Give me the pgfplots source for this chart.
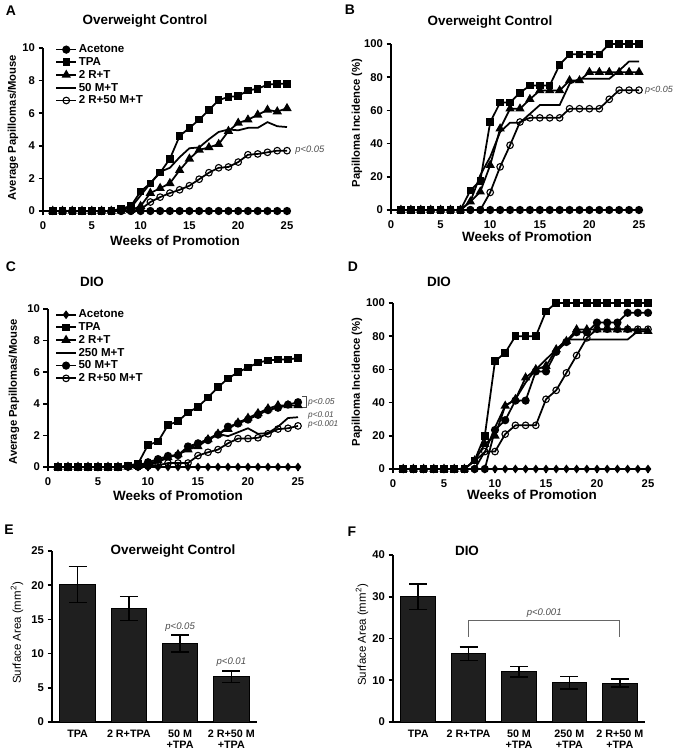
\documentclass[border=0pt]{standalone}
\usepackage{pgfplots}
\usepackage{pgfplotstable}
\pgfplotsset{compat=1.18}
\usepackage{fontspec}
\setmainfont{Liberation Sans}
\newcommand{\fs}[1]{\fontsize{#1}{#1}\selectfont}

\pgfplotstableread{
week ace tpa rt m rm
1 0 0 0 0 0
2 0 0 0 0 0
3 0 0 0 0 0
4 0 0 0 0 0
5 0 0 0 0 0
6 0 0 0 0 0
7 0 0 0 0 0
8 0 0.15 0 0.05 0
9 0 0.3 0.05 0.2 0
10 0 1.2 0.3 0.95 0.1
11 0 1.7 1.1 1.7 0.55
12 0 2.35 1.4 2.4 0.85
13 0 3.2 1.7 2.65 1.1
14 0 4.6 2.5 3.3 1.3
15 0 5.1 3.2 3.85 1.55
16 0 5.6 3.75 3.9 1.95
17 0 6.2 3.9 4.4 2.35
18 0 6.8 4.1 4.85 2.65
19 0 7.0 4.9 5.0 2.7
20 0 7.05 5.4 4.95 3.0
21 0 7.4 5.6 5.1 3.45
22 0 7.5 5.9 5.1 3.5
23 0 7.75 6.2 5.45 3.6
24 0 7.8 6.1 5.2 3.7
25 0 7.8 6.3 5.15 3.7
}\tabA

\pgfplotstableread{
week ace tpa rt m rm
1 0 0 0 0 0
2 0 0 0 0 0
3 0 0 0 0 0
4 0 0 0 0 0
5 0 0 0 0 0
6 0 0 0 0 0
7 0 0 0 0 0
8 0 11.8 5 5 0
9 0 17.6 11 21 0
10 0 52.9 27 32 10.6
11 0 64.7 49 47 26
12 0 64.7 61 52.6 39
13 0 70.6 61 52.6 53
14 0 75 66.7 57.9 55.5
15 0 75 72 63.2 55.5
16 0 75 72 63.2 55.5
17 0 87.5 72 63.2 55.5
18 0 93.8 78 76 61
19 0 93.8 78 79 61
20 0 93.8 83 79 61
21 0 93.8 83 79 61
22 0 100 83 79 66.7
23 0 100 83 84 72.2
24 0 100 83 89.5 72.2
25 0 100 83 89.5 72.2
}\tabB

\pgfplotstableread{
week ace tpa rt mq mc rm
1 0 0 0 0 0 0
2 0 0 0 0 0 0
3 0 0 0 0 0 0
4 0 0 0 0 0 0
5 0 0 0 0 0 0
6 0 0 0 0 0 0
7 0 0 0 0 0 0
8 0 0.1 0 0 0.05 0
9 0 0.2 0.05 0.05 0.1 0
10 0 1.4 0.2 0.1 0.3 0.05
11 0 1.6 0.4 0.3 0.5 0.1
12 0 2.65 0.6 0.6 0.7 0.25
13 0 2.9 0.8 0.8 0.75 0.25
14 0 3.45 1.1 1.1 1.3 0.25
15 0 3.8 1.3 1.5 1.5 0.72
16 0 4.4 1.75 1.75 1.7 0.93
17 0 5.05 2.1 2.1 2.05 1.1
18 0 5.6 2.4 1.95 2.55 1.5
19 0 6.0 2.8 2.2 2.75 1.8
20 0 6.3 3.1 2.45 3.0 1.8
21 0 6.6 3.4 2.1 3.3 1.85
22 0 6.75 3.7 2.15 3.6 2.1
23 0 6.8 3.9 2.55 3.75 2.4
24 0 6.8 3.9 3.1 3.95 2.45
25 0 6.9 3.9 3.15 4.1 2.6
}\tabC

\pgfplotstableread{
week ace tpa rt mq mc rm
1 0 0 0 0 0 0
2 0 0 0 0 0 0
3 0 0 0 0 0 0
4 0 0 0 0 0 0
5 0 0 0 0 0 0
6 0 0 0 0 0 0
7 0 0 0 0 0 0
8 0 5.2 5 5 0 0
9 0 20 15 10 0 10.5
10 0 65 20 25 23.5 10.5
11 0 70 38 38 29.4 21
12 0 80 42 42 41.2 26.3
13 0 80 55 52 41.2 26.3
14 0 80 60 60 58.8 26.3
15 0 95 62 66 58.8 42
16 0 100 72 72 70.6 47.4
17 0 100 77 78 76.5 57.9
18 0 100 84 78 82.4 68.4
19 0 100 84 78 82.4 79
20 0 100 84 78 88.2 84.2
21 0 100 84 78 88.2 84.2
22 0 100 84 78 88.2 84.2
23 0 100 84 78 94.1 84.2
24 0 100 83 83 94.1 84.2
25 0 100 83 83 94.1 84.2
}\tabD

\begin{document}
\begin{tikzpicture}
\pgfplotsset{
  base/.style={scale only axis, clip=false, axis lines=left,
    axis line style={-, line width=1.9bp, black},
    tick align=outside, major tick length=4.5bp,
    tick style={line width=1.6bp, black},
    /pgf/number format/assume math mode=true,
    tick label style={font=\fs{11.3}\bfseries},
    legend cell align=left,
  },
  lin/.style={base, xmin=0, xmax=25, xtick={0,5,10,15,20,25},
    xticklabel style={yshift=-3bp}},
  ser/.style={black, line width=1.75bp},
  pace/.style={ser, mark=*, mark size=3.2bp},
  pacd/.style={ser, mark=diamond*, mark size=3bp},
  ptpa/.style={ser, mark=square*, mark size=2.9bp},
  prt/.style={ser, mark=triangle*, mark size=3.7bp},
  pm/.style={ser, mark=none},
  pmc/.style={ser, mark=*, mark size=3.2bp},
  prm/.style={ser, mark=o, mark size=3.3bp, mark options={line width=1.1bp}},
  leg/.style={legend style={draw=none, fill=none, inner sep=0pt,
      font=\fs{11.6}\bfseries, row sep=0bp, at={#1}, anchor=north west,
      nodes={inner sep=1.6bp}},
    legend image code/.code={\draw[mark repeat=2,mark phase=2,##1] plot coordinates {(0bp,0bp) (10bp,0bp) (20bp,0bp)};}},
  barax/.style={base, ymin=0, x tick style={draw=none},
    xticklabel style={align=center, font=\fontsize{10.8}{11}\selectfont\bfseries}},
  bars/.style={ybar, bar width=0.69, fill=black!88, draw=black, line width=1bp,
    error bars/.cd, y dir=both, y explicit,
    error bar style={line width=1.6bp, black},
    error mark options={rotate=90, mark size=9bp, line width=1.6bp, black}},
}

% ---------- A ----------
\begin{axis}[lin, at={(43bp,539bp)}, anchor=south west, width=244bp, height=163bp,
  ymin=0, ymax=10, ytick={0,2,4,6,8,10}, leg={(0.05,1.03)}]
\addplot[pace] table[x=week,y=ace]{\tabA}; \addlegendentry{Acetone}
\addplot[ptpa] table[x=week,y=tpa]{\tabA}; \addlegendentry{TPA}
\addplot[prt] table[x=week,y=rt]{\tabA}; \addlegendentry{2 R+T}
\addplot[pm] table[x=week,y=m]{\tabA}; \addlegendentry{50 M+T}
\addplot[prm] table[x=week,y=rm]{\tabA}; \addlegendentry{2 R+50 M+T}
\node[font=\fs{9.4}\itshape, text=black!70, anchor=west] at (axis cs:25.5,3.7) {p<0.05};
\end{axis}

% ---------- B ----------
\begin{axis}[lin, at={(391bp,540bp)}, anchor=south west, width=248bp, height=166bp,
  ymin=0, ymax=100, ytick={0,20,40,60,80,100}]
\addplot[pace] table[x=week,y=ace]{\tabB};
\addplot[ptpa] table[x=week,y=tpa]{\tabB};
\addplot[prt] table[x=week,y=rt]{\tabB};
\addplot[pm] table[x=week,y=m]{\tabB};
\addplot[prm] table[x=week,y=rm]{\tabB};
\node[font=\fs{9}\itshape, text=black!70, anchor=west, inner sep=0pt] at (axis cs:25.6,72) {p<0.05};
\end{axis}

% ---------- C ----------
\begin{axis}[lin, at={(48bp,283bp)}, anchor=south west, width=250bp, height=158bp,
  ymin=0, ymax=10, ytick={0,2,4,6,8,10}, leg={(0.028,1.005)}]
\addplot[pacd] table[x=week,y=ace]{\tabC}; \addlegendentry{Acetone}
\addplot[ptpa] table[x=week,y=tpa]{\tabC}; \addlegendentry{TPA}
\addplot[prt] table[x=week,y=rt]{\tabC}; \addlegendentry{2 R+T}
\addplot[pm] table[x=week,y=mq]{\tabC}; \addlegendentry{250 M+T}
\addplot[pmc] table[x=week,y=mc]{\tabC}; \addlegendentry{50 M+T}
\addplot[prm] table[x=week,y=rm]{\tabC}; \addlegendentry{2 R+50 M+T}
\draw[black!70, line width=0.8bp] (axis cs:25.4,4.49) -- (axis cs:25.8,4.49) -- (axis cs:25.8,3.8) -- (axis cs:25.4,3.8);
\node[font=\fs{8.6}\itshape, text=black!70, anchor=west, inner sep=0pt] at (axis cs:26.0,4.1) {p<0.05};
\node[font=\fs{8.3}\itshape, text=black!70, anchor=west, inner sep=0pt] at (axis cs:26.0,3.24) {p<0.01};
\node[font=\fs{8.3}\itshape, text=black!70, anchor=west, inner sep=0pt] at (axis cs:26.0,2.72) {p<0.001};
\end{axis}

% ---------- D ----------
\begin{axis}[lin, at={(393bp,281bp)}, anchor=south west, width=255bp, height=166bp,
  ymin=0, ymax=100, ytick={0,20,40,60,80,100}]
\addplot[pacd] table[x=week,y=ace]{\tabD};
\addplot[ptpa] table[x=week,y=tpa]{\tabD};
\addplot[prt] table[x=week,y=rt]{\tabD};
\addplot[pm] table[x=week,y=mq]{\tabD};
\addplot[pmc] table[x=week,y=mc]{\tabD};
\addplot[prm] table[x=week,y=rm]{\tabD};
\end{axis}

% ---------- E ----------
\begin{axis}[barax, at={(52bp,28bp)}, anchor=south west, width=205bp, height=171bp,
  xmin=-0.5, xmax=3.5, ymax=25, ytick={0,5,10,15,20,25},
  xtick={0,1,2,3}, xticklabels={TPA,2 R+TPA,{50 M\\+TPA},{2 R+50 M\\+TPA}}]
\addplot[bars] coordinates {(0,20.1) +- (0,2.65) (1,16.6) +- (0,1.75) (2,11.5) +- (0,1.25) (3,6.65) +- (0,0.85)};
\node[font=\fs{9.6}\itshape, text=black!70] at (axis cs:2,13.9) {p<0.05};
\node[font=\fs{9.6}\itshape, text=black!70] at (axis cs:3,8.8) {p<0.01};
\end{axis}

% ---------- F ----------
\begin{axis}[barax, at={(393bp,28bp)}, anchor=south west, width=252bp, height=167bp,
  xmin=-0.5, xmax=4.5, ymax=40, ytick={0,10,20,30,40},
  xtick={0,1,2,3,4}, xticklabels={TPA,2 R+TPA,{50 M\\+TPA},{250 M\\+TPA},{2 R+50 M\\+TPA}}]
\addplot[bars] coordinates {(0,30.0) +- (0,3.1) (1,16.35) +- (0,1.6) (2,12.05) +- (0,1.2) (3,9.4) +- (0,1.5) (4,9.3) +- (0,0.95)};
\draw[black!60, line width=1bp] (axis cs:1,20.4) -- (axis cs:1,24.4) -- (axis cs:4,24.4) -- (axis cs:4,20.4);
\node[font=\fs{9.6}\itshape, text=black!70] at (axis cs:2.5,26.1) {p<0.001};
\end{axis}

% ---------- texts ----------
\begin{scope}[every node/.style={font=\fs{14}\bfseries}]
\node at (11bp,739.5bp) {A};
\node at (350bp,740bp) {B};
\node at (11bp,483bp) {C};
\node at (353bp,483bp) {D};
\node at (9bp,220bp) {E};
\node at (352bp,218bp) {F};
\end{scope}
\begin{scope}[every node/.style={font=\fs{13.5}\bfseries}]
\node at (145bp,728.5bp) {Overweight Control};
\node at (490bp,728bp) {Overweight Control};
\node at (92bp,468bp) {DIO};
\node at (439bp,468bp) {DIO};
\node at (173bp,199bp) {Overweight Control};
\node at (467bp,199bp) {DIO};
\node at (175bp,509bp) {Weeks of Promotion};
\node at (527bp,513bp) {Weeks of Promotion};
\node at (178bp,254bp) {Weeks of Promotion};
\node at (532bp,255bp) {Weeks of Promotion};
\end{scope}
\begin{scope}[every node/.style={font=\fs{11.3}\bfseries, rotate=90}]
\node at (13bp,622.5bp) {Average Papillomas/Mouse};
\node at (357bp,627bp) {Papilloma Incidence (\%)};
\node at (14bp,358bp) {Average Papillomas/Mouse};
\node at (357bp,368bp) {Papilloma Incidence (\%)};
\end{scope}
\begin{scope}[every node/.style={font=\fs{11.5}, rotate=90}]
\node at (17bp,117bp) {Surface Area (mm\textsuperscript{2})};
\node at (362bp,115bp) {Surface Area (mm\textsuperscript{2})};
\end{scope}
\pgfresetboundingbox
\path (0,0) rectangle (677bp,750bp);
\end{tikzpicture}
\end{document}
